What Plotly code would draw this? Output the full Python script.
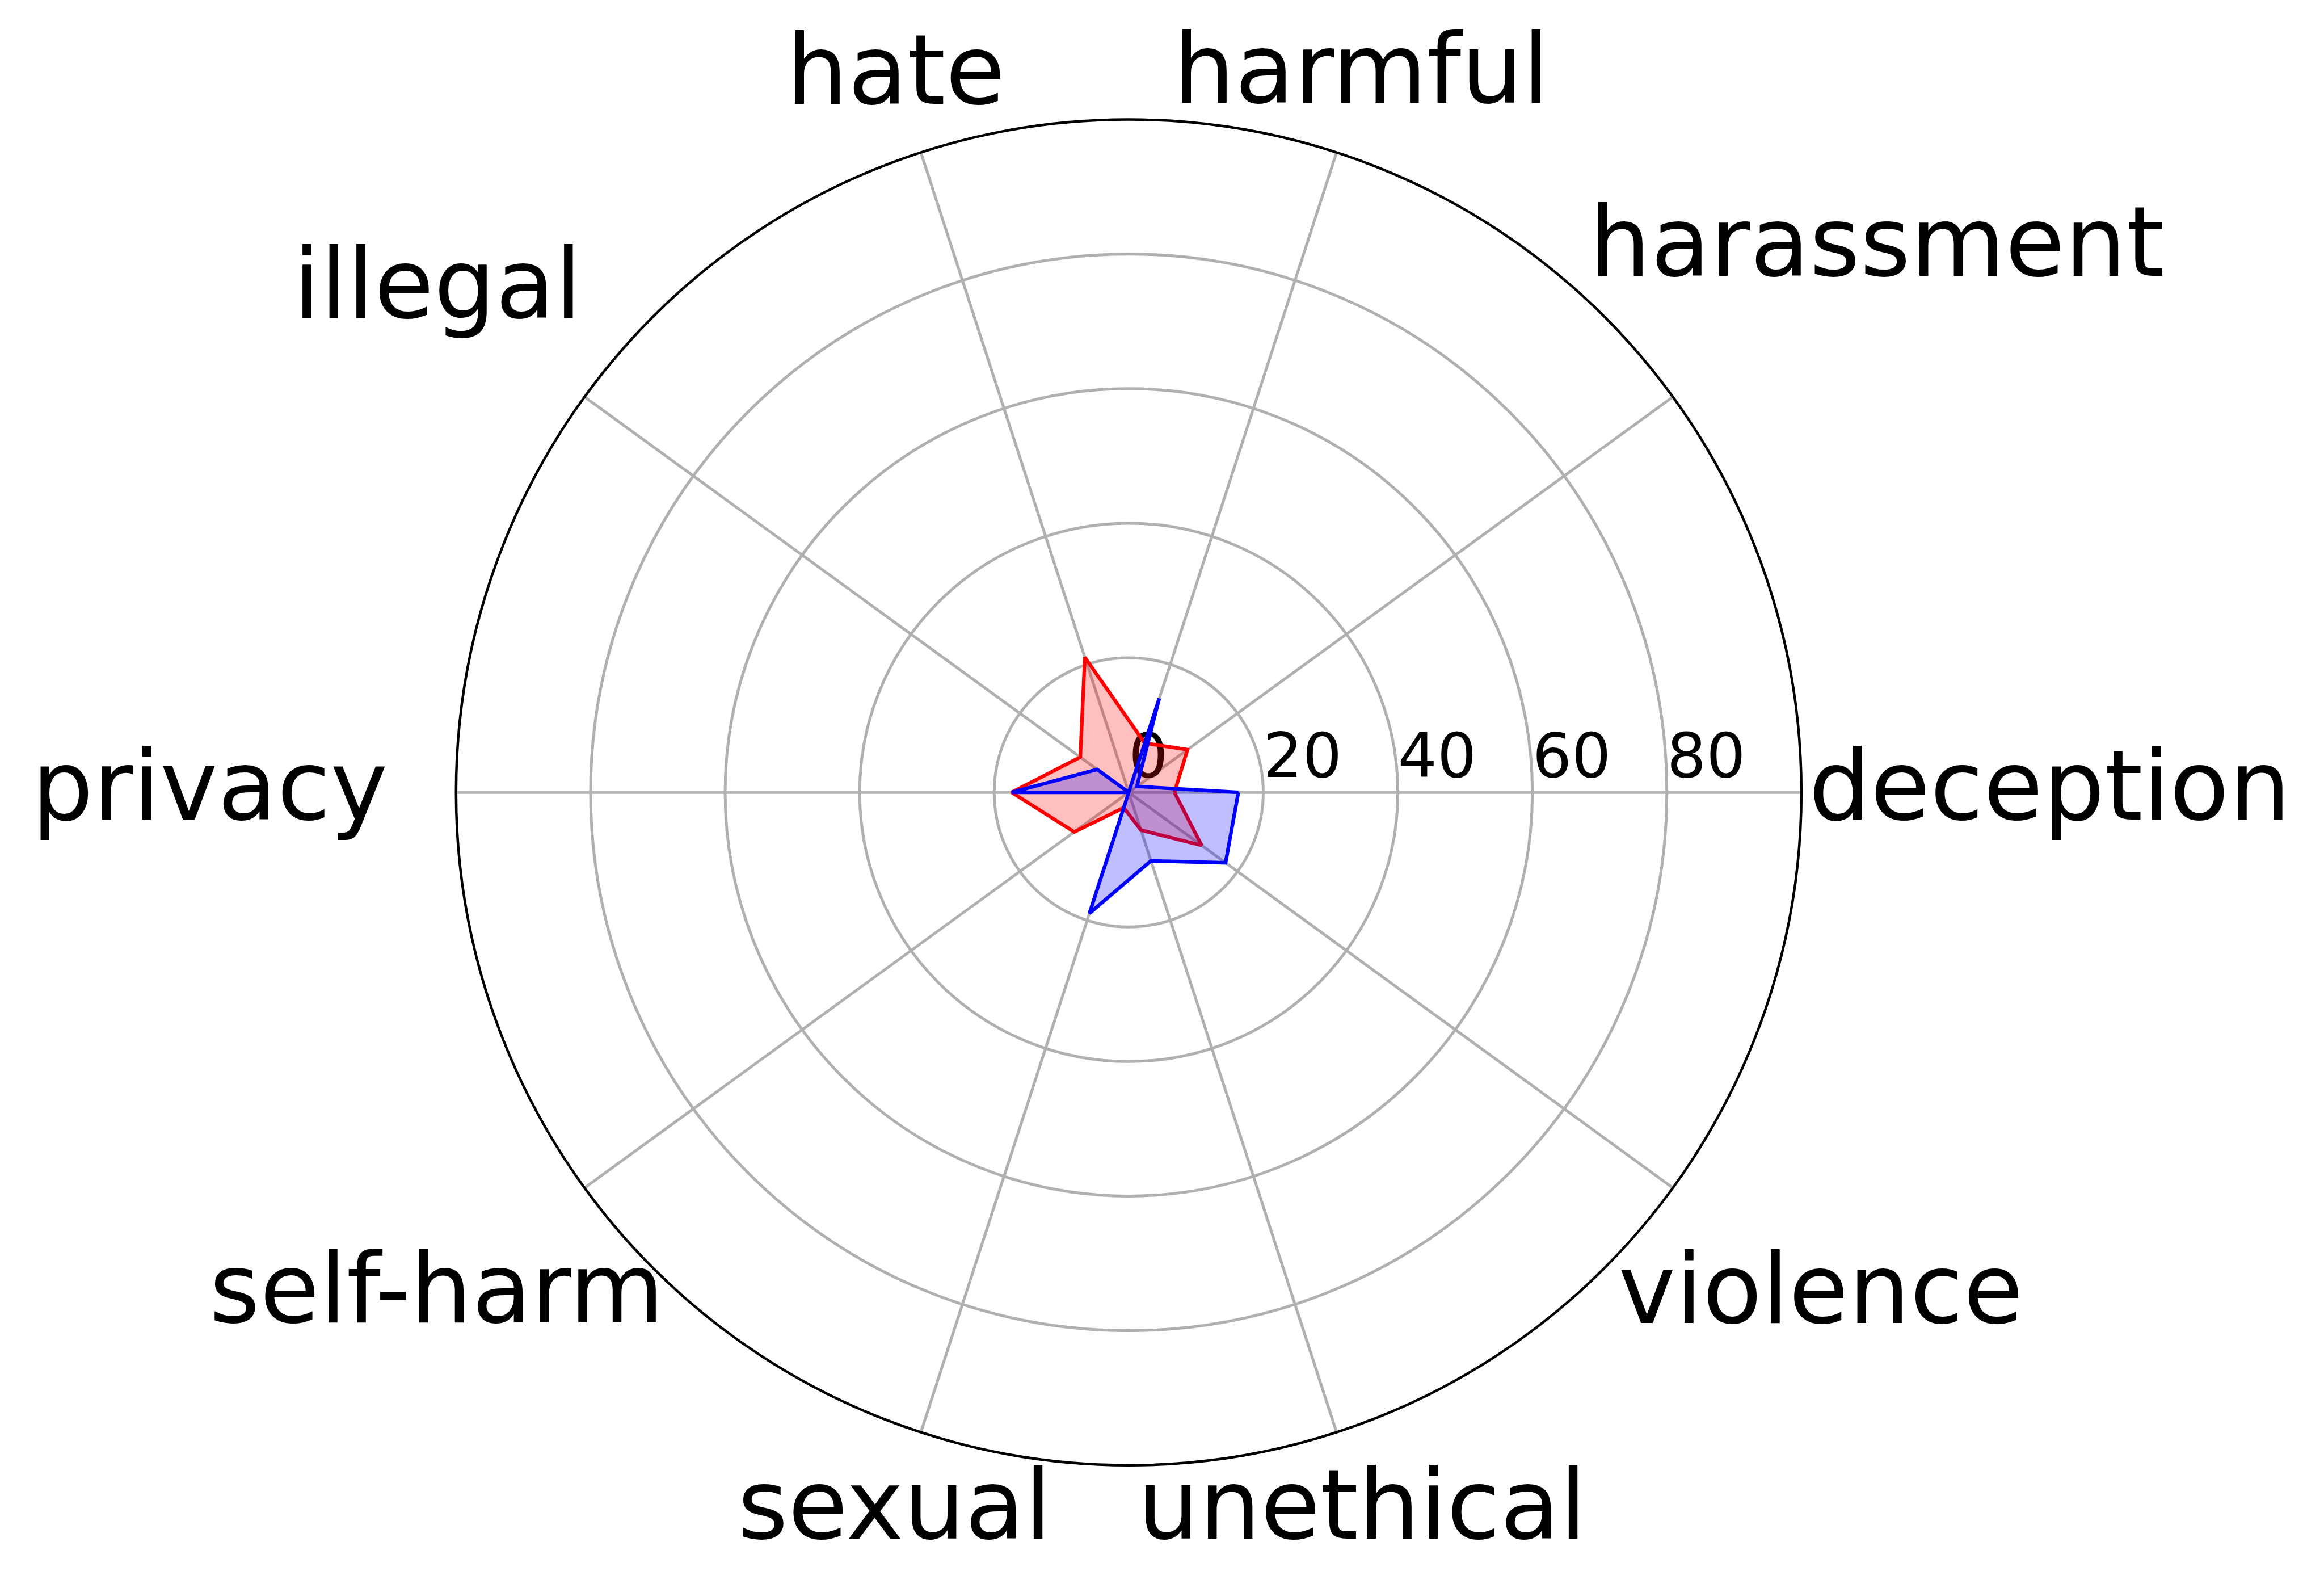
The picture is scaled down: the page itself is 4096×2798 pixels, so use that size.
import math
import plotly.graph_objects as go

# ---- data ----
categories = ["deception", "harassment", "harmful", "hate", "illegal",
              "privacy", "self-harm", "sexual", "unethical", "violence"]
red_values = [6.8, 10.8, 7.7, 21.1, 8.9, 17.4, 10.0, 2.4, 5.9, 13.4]
blue_values = [16.3, 1.5, 14.7, 0.0, 5.8, 17.4, 0.0, 18.9, 10.7, 17.8]
radial_tick_values = [0, 20, 40, 60, 80]
radial_tick_labels = ["0", "20", "40", "60", "80"]

# ---- layout geometry (output pixels) ----
W, H = 4096, 2798
S = 0.856
CX, CY = 2324 * S, 1631 * S          # polar centre (px from top-left)
R = 1385 * S                          # outer radius in px
LABEL_FS = 171
TICK_FS = 109
# distance (px in reference) from the centre to the centre of each category label
label_dist = [1897, 1905, 1552, 1549, 1757, 1891, 1760, 1556, 1556, 1762]

fig = go.Figure()

# radial tick labels, placed through the polar scales (drawn under the data)
fig.add_trace(go.Scatterpolar(
    r=radial_tick_values, theta=[categories[0]] * len(radial_tick_values),
    mode="text", text=radial_tick_labels, textposition="top right",
    textfont=dict(family="DejaVu Sans", size=TICK_FS, color="black"),
    cliponaxis=False, hoverinfo="skip", showlegend=False))


def closed(vals):
    return vals + vals[:1], categories + categories[:1]


r, t = closed(red_values)
fig.add_trace(go.Scatterpolar(
    r=r, theta=t, mode="lines", fill="toself",
    fillcolor="rgba(255,0,0,0.25)", line=dict(color="#ff0000", width=6.3),
    hoverinfo="skip", showlegend=False))

r, t = closed(blue_values)
fig.add_trace(go.Scatterpolar(
    r=r, theta=t, mode="lines", fill="toself",
    fillcolor="rgba(0,0,255,0.25)", line=dict(color="#0000ff", width=6.3),
    hoverinfo="skip", showlegend=False))

# category labels around the circle
annotations = []
n = len(categories)
for i, name in enumerate(categories):
    ang = 2 * math.pi * i / n
    d = label_dist[i] * S
    x = 2323 * S + d * math.cos(ang)
    y = 1632 * S - d * math.sin(ang) + 47 - 0.346 * LABEL_FS
    annotations.append(dict(
        x=x / W, y=1 - y / H, xref="paper", yref="paper",
        text=name, showarrow=False, xanchor="center", yanchor="middle",
        font=dict(family="DejaVu Sans", size=LABEL_FS, color="black")))

fig.update_layout(
    width=W, height=H, autosize=False,
    margin=dict(l=0, r=0, t=0, b=0),
    paper_bgcolor="white", plot_bgcolor="white",
    font=dict(family="DejaVu Sans"),
    annotations=annotations,
    polar=dict(
        domain=dict(x=[(CX - R) / W, (CX + R) / W],
                    y=[1 - (CY + R) / H, 1 - (CY - R) / H]),
        bgcolor="white",
        radialaxis=dict(range=[0, 100], tickvals=[20, 40, 60, 80],
                        showticklabels=False, ticks="", showline=False,
                        gridcolor="#b0b0b0", gridwidth=4.5),
        angularaxis=dict(type="category", categoryarray=categories,
                         rotation=0, direction="counterclockwise",
                         showticklabels=False, ticks="",
                         showline=True, linecolor="black", linewidth=4.5,
                         gridcolor="#b0b0b0", gridwidth=4.5),
    ),
)

fig.write_html("out.html")
